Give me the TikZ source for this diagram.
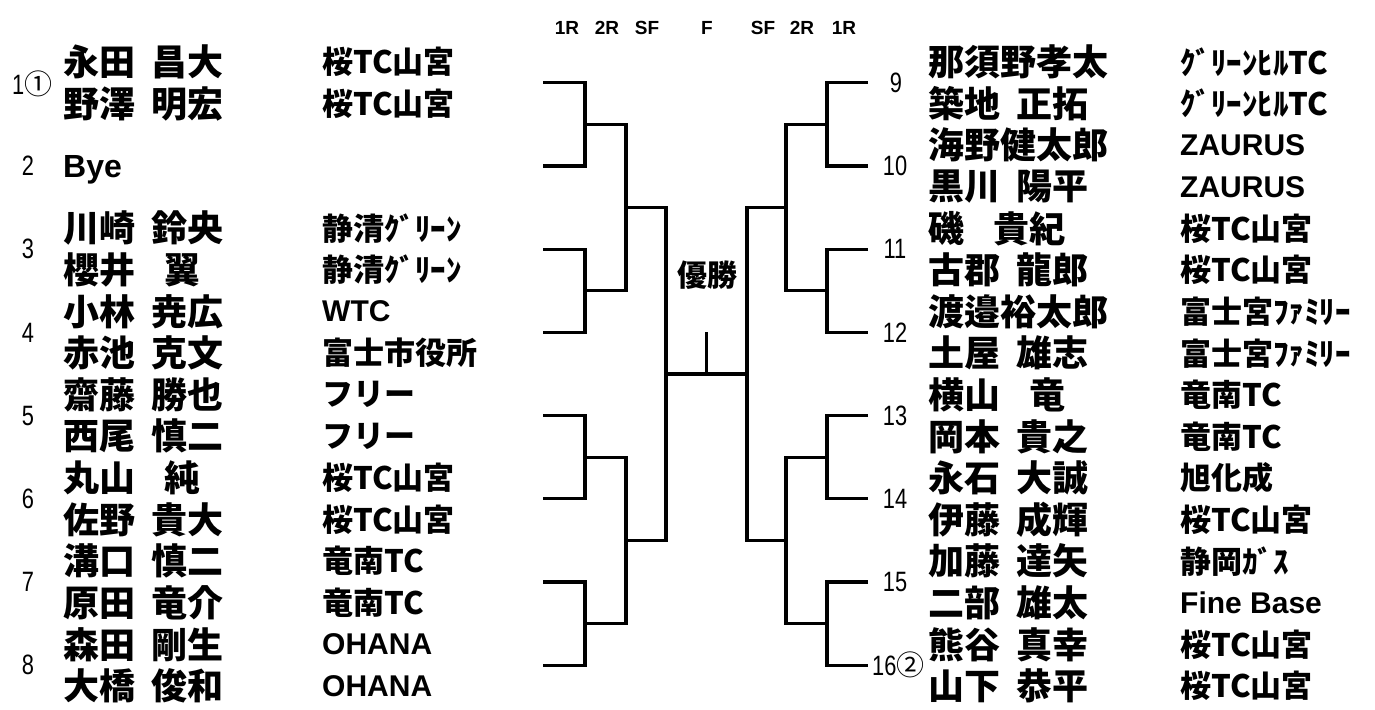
\documentclass[tikz,border=0pt]{standalone}
\usepackage{fontspec}
\newfontfamily\jpfont{Noto Sans CJK JP}
\newfontfamily\latinfont{Liberation Sans}
\newfontfamily\numfont[FakeStretch=0.78]{Liberation Sans}
\newcommand\namegap{\hspace{0.45em}}
\newcommand\widegap{\hspace{0.8em}}

\begin{document}
\begin{tikzpicture}[x=1pt,y=-1pt,
  bracket/.style={line width=3.2pt},
  player/.style={anchor=west,inner sep=0pt,font=\jpfont\bfseries\fontsize{36}{40}\selectfont},
  club/.style={anchor=west,inner sep=0pt,font=\jpfont\bfseries\fontsize{31}{34}\selectfont},
  latinclub/.style={anchor=west,inner sep=0pt,font=\latinfont\bfseries\fontsize{30}{34}\selectfont},
  seed/.style={inner sep=0pt,font=\numfont\fontsize{28}{30}\selectfont},
  roundlabel/.style={inner sep=0pt,font=\latinfont\bfseries\fontsize{19}{22}\selectfont}]

\useasboundingbox (0,0) rectangle (1375,709);

% rounds
\node[roundlabel] (h1) at (567,28) {1R};
\node[roundlabel] (h2) at (607,28) {2R};
\node[roundlabel] (h3) at (647,28) {SF};
\node[roundlabel] (h4) at (707,28) {F};
\node[roundlabel] (h5) at (763,28) {SF};
\node[roundlabel] (h6) at (802,28) {2R};
\node[roundlabel] (h7) at (844,28) {1R};

\node[font=\jpfont\bfseries\fontsize{30}{32}\selectfont,inner sep=0pt] (champ) at (707,275) {優勝};

\begin{scope}

\coordinate (l1) at (543,82.8);
\coordinate (l2) at (543,166);
\coordinate (l3) at (543,249.2);
\coordinate (l4) at (543,332.4);
\coordinate (l5) at (543,415.6);
\coordinate (l6) at (543,498.8);
\coordinate (l7) at (543,582);
\coordinate (l8) at (543,665.2);
\coordinate (la1) at (585,124.4);
\coordinate (la2) at (585,290.8);
\coordinate (la3) at (585,457.2);
\coordinate (la4) at (585,623.6);
\coordinate (lb1) at (626,207.6);
\coordinate (lb2) at (626,540.4);
\coordinate (lc) at (666,374);

\draw[bracket] (l1) -| (la1) |- (l2);
\draw[bracket] (l3) -| (la2) |- (l4);
\draw[bracket] (l5) -| (la3) |- (l6);
\draw[bracket] (l7) -| (la4) |- (l8);
\draw[bracket] (la1) -| (lb1) |- (la2);
\draw[bracket] (la3) -| (lb2) |- (la4);
\draw[bracket] (lb1) -| (lc) |- (lb2);

\node[seed,anchor=west] (ls1) at (12,84) {1{\jpfont ①}};
\node[seed] (ls2) at (28,166) {2};
\node[seed] (ls3) at (28,249.2) {3};
\node[seed] (ls4) at (28,332.4) {4};
\node[seed] (ls5) at (28,415.6) {5};
\node[seed] (ls6) at (28,498.8) {6};
\node[seed] (ls7) at (28,582) {7};
\node[seed] (ls8) at (28,665.2) {8};

\node[player] (lp1) at (63,62) {永田\namegap 昌大};
\node[player] (lp2) at (63,103.6) {野澤\namegap 明宏};
\node[player,font=\latinfont\bfseries\fontsize{32}{36}\selectfont] (bye) at (63,170) {Bye};
\node[player] (lp5) at (63,228.4) {川崎\namegap 鈴央};
\node[player] (lp6) at (63,270) {櫻井\widegap 翼};
\node[player] (lp7) at (63,311.6) {小林\namegap 尭広};
\node[player] (lp8) at (63,353.2) {赤池\namegap 克文};
\node[player] (lp9) at (63,394.8) {齋藤\namegap 勝也};
\node[player] (lp10) at (63,436.4) {西尾\namegap 慎二};
\node[player] (lp11) at (63,478) {丸山\widegap 純};
\node[player] (lp12) at (63,519.6) {佐野\namegap 貴大};
\node[player] (lp13) at (63,561.2) {溝口\namegap 慎二};
\node[player] (lp14) at (63,602.8) {原田\namegap 竜介};
\node[player] (lp15) at (63,644.4) {森田\namegap 剛生};
\node[player] (lp16) at (63,686) {大橋\namegap 俊和};

\node[club] (lk1) at (322,62) {桜TC山宮};
\node[club] (lk2) at (322,103.6) {桜TC山宮};
\node[club] (lk5) at (322,228.4) {静清ｸﾞﾘｰﾝ};
\node[club] (lk6) at (322,270) {静清ｸﾞﾘｰﾝ};
\node[latinclub] (lk7) at (322,311.6) {WTC};
\node[club] (lk8) at (322,353.2) {富士市役所};
\node[club] (lk9) at (322,394.8) {フリー};
\node[club] (lk10) at (322,436.4) {フリー};
\node[club] (lk11) at (322,478) {桜TC山宮};
\node[club] (lk12) at (322,519.6) {桜TC山宮};
\node[club] (lk13) at (322,561.2) {竜南TC};
\node[club] (lk14) at (322,602.8) {竜南TC};
\node[latinclub] (lk15) at (322,644.4) {OHANA};
\node[latinclub] (lk16) at (322,686) {OHANA};
\end{scope}

\begin{scope}

\coordinate (r1) at (868,82.8);
\coordinate (r2) at (868,166);
\coordinate (r3) at (868,249.2);
\coordinate (r4) at (868,332.4);
\coordinate (r5) at (868,415.6);
\coordinate (r6) at (868,498.8);
\coordinate (r7) at (868,582);
\coordinate (r8) at (868,665.2);
\coordinate (ra1) at (827,124.4);
\coordinate (ra2) at (827,290.8);
\coordinate (ra3) at (827,457.2);
\coordinate (ra4) at (827,623.6);
\coordinate (rb1) at (786,207.6);
\coordinate (rb2) at (786,540.4);
\coordinate (rc) at (747,374);

\draw[bracket] (r1) -| (ra1) |- (r2);
\draw[bracket] (r3) -| (ra2) |- (r4);
\draw[bracket] (r5) -| (ra3) |- (r6);
\draw[bracket] (r7) -| (ra4) |- (r8);
\draw[bracket] (ra1) -| (rb1) |- (ra2);
\draw[bracket] (ra3) -| (rb2) |- (ra4);
\draw[bracket] (rb1) -| (rc) |- (rb2);

\node[seed] (rs1) at (896,82.8) {9};
\node[seed] (rs2) at (895,166) {10};
\node[seed] (rs3) at (895,249.2) {11};
\node[seed] (rs4) at (895,332.4) {12};
\node[seed] (rs5) at (895,415.6) {13};
\node[seed] (rs6) at (895,498.8) {14};
\node[seed] (rs7) at (895,582) {15};
\node[seed,anchor=west] (rs8) at (872,665.2) {16{\jpfont ②}};

\node[player] (rp1) at (928,62) {那須野孝太};
\node[player] (rp2) at (928,103.6) {築地\namegap 正拓};
\node[player] (rp3) at (928,145.2) {海野健太郎};
\node[player] (rp4) at (928,186.8) {黒川\namegap 陽平};
\node[player] (rp5) at (928,228.4) {磯\widegap 貴紀};
\node[player] (rp6) at (928,270) {古郡\namegap 龍郎};
\node[player] (rp7) at (928,311.6) {渡邉裕太郎};
\node[player] (rp8) at (928,353.2) {土屋\namegap 雄志};
\node[player] (rp9) at (928,394.8) {横山\widegap 竜};
\node[player] (rp10) at (928,436.4) {岡本\namegap 貴之};
\node[player] (rp11) at (928,478) {永石\namegap 大誠};
\node[player] (rp12) at (928,519.6) {伊藤\namegap 成輝};
\node[player] (rp13) at (928,561.2) {加藤\namegap 達矢};
\node[player] (rp14) at (928,602.8) {二部\namegap 雄太};
\node[player] (rp15) at (928,644.4) {熊谷\namegap 真幸};
\node[player] (rp16) at (928,686) {山下\namegap 恭平};

\node[club] (rk1) at (1180,62) {ｸﾞﾘｰﾝﾋﾙTC};
\node[club] (rk2) at (1180,103.6) {ｸﾞﾘｰﾝﾋﾙTC};
\node[latinclub] (rk3) at (1180,145.2) {ZAURUS};
\node[latinclub] (rk4) at (1180,186.8) {ZAURUS};
\node[club] (rk5) at (1180,228.4) {桜TC山宮};
\node[club] (rk6) at (1180,270) {桜TC山宮};
\node[club] (rk7) at (1180,311.6) {富士宮ﾌｧﾐﾘｰ};
\node[club] (rk8) at (1180,353.2) {富士宮ﾌｧﾐﾘｰ};
\node[club] (rk9) at (1180,394.8) {竜南TC};
\node[club] (rk10) at (1180,436.4) {竜南TC};
\node[club] (rk11) at (1180,478) {旭化成};
\node[club] (rk12) at (1180,519.6) {桜TC山宮};
\node[club] (rk13) at (1180,561.2) {静岡ｶﾞｽ};
\node[latinclub] (rk14) at (1180,602.8) {Fine Base};
\node[club] (rk15) at (1180,644.4) {桜TC山宮};
\node[club] (rk16) at (1180,686) {桜TC山宮};
\end{scope}

% final
\coordinate (win) at (706.5,332);
\coordinate (fin) at (706.5,374);
\draw[bracket] (lc) -- (rc);
\draw[bracket] (win) -- (fin);

\end{tikzpicture}
\end{document}
